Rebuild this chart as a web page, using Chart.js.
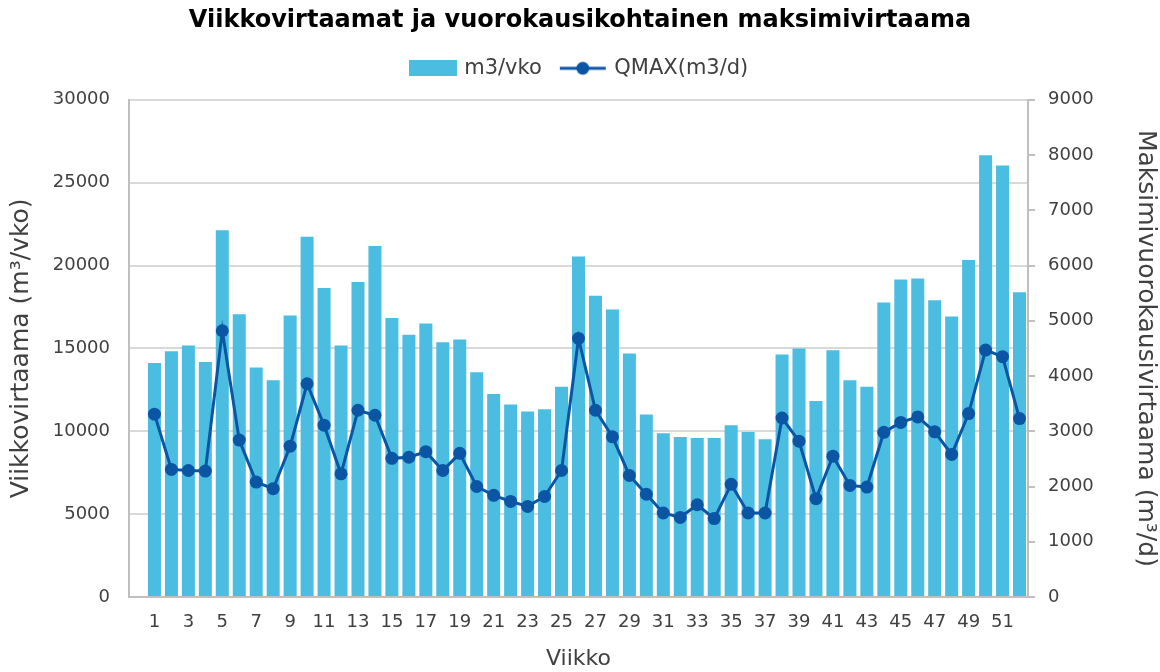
<!DOCTYPE html>
<html>
<head>
<meta charset="utf-8">
<script src="https://cdn.jsdelivr.net/npm/chart.js@4.4.1/dist/chart.umd.min.js"></script>
<style>
  html, body { margin: 0; padding: 0; background: #fff; }
  #wrap { width: 1160px; height: 672px; }
</style>
</head>
<body>
<div id="wrap"><canvas id="chart" width="1160" height="672"></canvas></div>
<script>
const weeks = Array.from({ length: 52 }, (_, i) => String(i + 1));

// m3/vko
const weeklyFlow = [
  14120, 14830, 15170, 14180, 22130, 17060, 13850, 13080, 16980, 21730,
  18650, 15170, 19000, 21180, 16840, 15820, 16500, 15370, 15530, 13560,
  12250, 11610, 11190, 11330, 12680, 20550, 18170, 17350, 14690, 11010,
  9880, 9660, 9600, 9600, 10360, 9960, 9520, 14630, 14990, 11830,
  14890, 13080, 12680, 17770, 19160, 19220, 17910, 16920, 20340, 26660,
  26040, 18390
];

// QMAX(m3/d)
const qmax = [
  3310, 2310, 2290, 2280, 4820, 2840, 2080, 1960, 2730, 3860,
  3110, 2230, 3380, 3290, 2510, 2530, 2630, 2290, 2600, 2000,
  1840, 1730, 1640, 1820, 2290, 4680, 3380, 2900, 2200, 1860,
  1520, 1440, 1670, 1420, 2040, 1520, 1520, 3240, 2820, 1780,
  2550, 2020, 1990, 2980, 3160, 3260, 2990, 2580, 3320, 4470,
  4350, 3230
];

// the original leaves an empty slot before week 1
const categories = [''].concat(weeks);

const FONT = 'DejaVu Sans';
const TEXT = '#404040';
const BAR = '#4bbde0';
const LINE = '#0b56a4';
const GRID = '#d9d9d9';
const AXIS = '#bfbfbf';

function legendIcon(kind) {
  const c = document.createElement('canvas');
  c.width = 48; c.height = 16;
  const g = c.getContext('2d');
  if (kind === 'bar') {
    g.fillStyle = BAR;
    g.fillRect(0, 0, 48, 16);
  } else {
    g.strokeStyle = LINE;
    g.lineWidth = 3;
    g.beginPath(); g.moveTo(1, 8); g.lineTo(47, 8); g.stroke();
    g.fillStyle = LINE;
    g.beginPath(); g.arc(24, 8, 6.5, 0, Math.PI * 2); g.fill();
  }
  return c;
}
const icons = [legendIcon('bar'), legendIcon('line')];

new Chart(document.getElementById('chart'), {
  data: {
    labels: categories,
    datasets: [
      {
        type: 'bar',
        label: 'm3/vko',
        data: [null].concat(weeklyFlow),
        backgroundColor: BAR,
        yAxisID: 'y',
        order: 1,
        barPercentage: 0.96,
        categoryPercentage: 0.8
      },
      {
        type: 'line',
        label: 'QMAX(m3/d)',
        data: [null].concat(qmax),
        borderColor: LINE,
        backgroundColor: LINE,
        borderWidth: 3,
        pointRadius: 6.5,
        pointBackgroundColor: LINE,
        pointBorderWidth: 0,
        tension: 0,
        yAxisID: 'y1',
        order: 0
      }
    ]
  },
  options: {
    responsive: false,
    animation: false,
    layout: { padding: 0 },
    plugins: {
      title: {
        display: true,
        text: 'Viikkovirtaamat ja vuorokausikohtainen maksimivirtaama',
        color: '#000',
        font: { family: FONT, size: 24, weight: 'bold' },
        padding: { top: 6, bottom: 3 }
      },
      // empty spacer between legend and plot
      subtitle: {
        display: true,
        text: '',
        weight: 500,
        font: { size: 1 },
        padding: { top: 0, bottom: 9.8 }
      },
      legend: {
        position: 'top',
        labels: {
          color: TEXT,
          font: { family: FONT, size: 21 },
          usePointStyle: true,
          pointStyleWidth: 42,
          padding: 20,
          sort: (a, b) => a.datasetIndex - b.datasetIndex,
          generateLabels: (chart) => {
            const items = Chart.defaults.plugins.legend.labels.generateLabels(chart);
            items.forEach((it) => { it.pointStyle = icons[it.datasetIndex]; });
            return items;
          }
        }
      },
      tooltip: { enabled: false }
    },
    scales: {
      x: {
        grid: { display: false, drawTicks: false },
        border: { color: AXIS, width: 2 },
        ticks: {
          color: TEXT,
          font: { family: FONT, size: 18 },
          autoSkip: false,
          maxRotation: 0,
          padding: 15,
          callback: (v, i) => (Number(categories[i]) % 2 === 1 ? categories[i] : '')
        },
        title: {
          display: true,
          text: 'Viikko',
          color: TEXT,
          font: { family: FONT, size: 22 },
          padding: { top: 0, bottom: 0 }
        },
        afterFit: (s) => { s.height = 75; }
      },
      y: {
        position: 'left',
        min: 0,
        max: 30000,
        ticks: {
          stepSize: 5000,
          color: TEXT,
          font: { family: FONT, size: 18 },
          padding: 19,
          callback: (v) => String(v)
        },
        grid: { color: GRID, lineWidth: 2, drawTicks: false },
        border: { color: AXIS, width: 2 },
        title: {
          display: true,
          text: 'Viikkovirtaama (m³/vko)',
          color: TEXT,
          font: { family: FONT, size: 25 },
          padding: { top: 6, bottom: 0 }
        },
        afterFit: (s) => { s.width = 129; }
      },
      y1: {
        position: 'right',
        min: 0,
        max: 9000,
        ticks: {
          stepSize: 1000,
          color: TEXT,
          font: { family: FONT, size: 18 },
          padding: 13,
          callback: (v) => String(v)
        },
        grid: { drawOnChartArea: false, color: AXIS, tickLength: 7, lineWidth: 2 },
        border: { color: AXIS, width: 2 },
        title: {
          display: true,
          text: 'Maksimivuorokausivirtaama (m³/d)',
          color: TEXT,
          font: { family: FONT, size: 25 },
          padding: { top: 0, bottom: 0 }
        },
        afterFit: (s) => { s.width = 132; }
      }
    }
  }
});
</script>
</body>
</html>
